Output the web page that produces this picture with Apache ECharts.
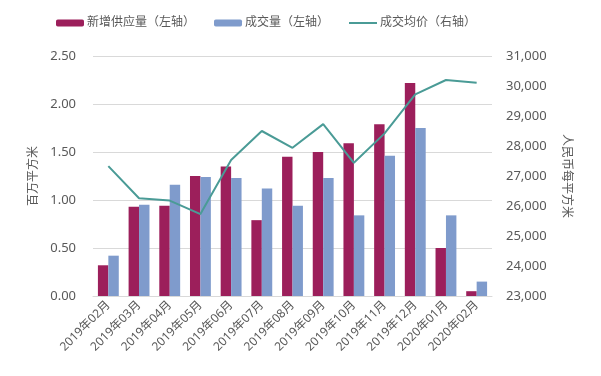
<!DOCTYPE html>
<html>
<head>
<meta charset="utf-8">
<script src="https://cdn.jsdelivr.net/npm/echarts@6/dist/echarts.min.js"></script>
<style>
  html, body { margin: 0; padding: 0; background: #fff; }
  #chart { width: 601px; height: 376px; }
</style>
</head>
<body>
<div id="chart"></div>
<script>
// 月份
var months = ['2019年02月', '2019年03月', '2019年04月', '2019年05月', '2019年06月', '2019年07月',
  '2019年08月', '2019年09月', '2019年10月', '2019年11月', '2019年12月', '2020年01月', '2020年02月'];
// 新增供应量（百万平方米）
var supply = [0.32, 0.93, 0.94, 1.25, 1.35, 0.79, 1.45, 1.50, 1.59, 1.79, 2.22, 0.50, 0.05];
// 成交量（百万平方米）
var volume = [0.42, 0.95, 1.16, 1.24, 1.23, 1.12, 0.94, 1.23, 0.84, 1.46, 1.75, 0.84, 0.15];
// 成交均价（人民币每平方米）
var price = [27330, 26260, 26180, 25730, 27530, 28500, 27940, 28730, 27440, 28420, 29720, 30200, 30110];

var textColor = '#595959';
var fontFamily = '"Noto Sans", "Noto Sans CJK SC", sans-serif';

var chart = echarts.init(document.getElementById('chart'));
chart.setOption({
  animation: false,
  textStyle: { fontFamily: fontFamily },
  legend: {
    top: 17,
    left: 56,
    padding: 0,
    itemWidth: 28,
    itemHeight: 7,
    itemGap: 19,
    textStyle: { color: textColor, fontSize: 12, fontFamily: fontFamily, padding: [0, 0, 0, -2] },
    data: [
      '新增供应量（左轴）',
      '成交量（左轴）',
      // 折线图例只画线，不画圆点
      { name: '成交均价（右轴）', itemStyle: { opacity: 0 } }
    ]
  },
  grid: {
    left: 93,
    right: 109,
    top: 56,
    bottom: 80
  },
  xAxis: {
    type: 'category',
    data: months,
    axisLine: { lineStyle: { color: '#d9d9d9' } },
    axisTick: { show: false },
    axisLabel: {
      color: textColor,
      fontSize: 12,
      rotate: 45,
      interval: 0,
      margin: 7
    }
  },
  yAxis: [
    {
      type: 'value',
      min: 0,
      max: 2.5,
      interval: 0.5,
      name: '百万平方米',
      nameLocation: 'middle',
      nameGap: 52,
      nameTextStyle: { color: textColor, fontSize: 12 },
      axisLine: { show: false },
      axisTick: { show: false },
      axisLabel: {
        color: textColor,
        fontSize: 13,
        margin: 17,
        formatter: function (v) { return v.toFixed(2); }
      },
      splitLine: { lineStyle: { color: '#d9d9d9' } }
    },
    {
      type: 'value',
      min: 23000,
      max: 31000,
      interval: 1000,
      name: '人民币每平方米',
      nameLocation: 'middle',
      nameRotate: -90,
      nameGap: 68,
      nameTextStyle: { color: textColor, fontSize: 12 },
      axisLine: { show: false },
      axisTick: { show: false },
      axisLabel: {
        color: textColor,
        fontSize: 13,
        margin: 14,
        formatter: function (v) { return v.toLocaleString('en-US'); }
      },
      splitLine: { show: false }
    }
  ],
  series: [
    {
      name: '新增供应量（左轴）',
      type: 'bar',
      data: supply,
      barWidth: '34%',
      barGap: '0%',
      itemStyle: { color: '#9c1f5b' }
    },
    {
      name: '成交量（左轴）',
      type: 'bar',
      data: volume,
      barWidth: '34%',
      itemStyle: { color: '#7f9bcc' }
    },
    {
      name: '成交均价（右轴）',
      type: 'line',
      yAxisIndex: 1,
      data: price,
      symbol: 'none',
      lineStyle: { color: '#4a9b96', width: 2 },
      itemStyle: { color: '#4a9b96' }
    }
  ]
});
</script>
</body>
</html>
